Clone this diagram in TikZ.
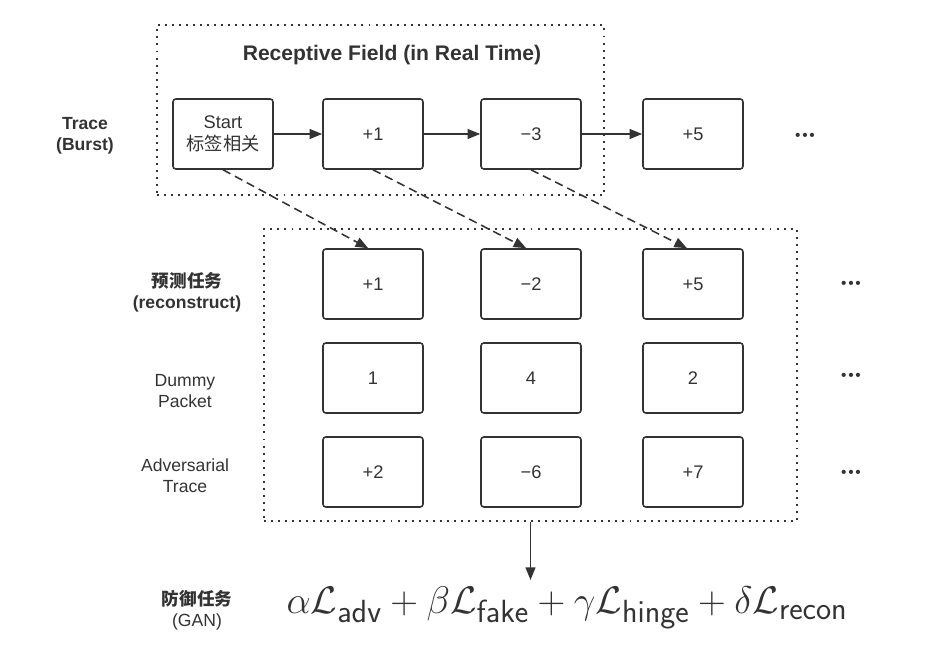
\documentclass[tikz,border=0pt]{standalone}
\usepackage{fontspec}
\setmainfont{Liberation Sans}
\newfontfamily\cjk{Noto Sans CJK SC}
\usetikzlibrary{arrows.meta}
\definecolor{ink}{HTML}{333333}
\tikzstyle{packet} = [rectangle, rounded corners=2pt, minimum width=2.5cm, minimum height=1.75cm, text centered, draw=ink, line width=1.1pt, text=ink, font=\fontsize{13}{16}\selectfont]
\tikzstyle{region} = [rectangle, draw=ink, line width=1.2pt, dash pattern=on 1.4pt off 3.6pt]
\tikzstyle{rowlabel} = [text=ink, align=center, font=\fontsize{12.5}{15}\selectfont]
\tikzstyle{boldlabel} = [rowlabel, font=\bfseries\fontsize{12.5}{15}\selectfont]
\tikzstyle{more} = [text=ink, font=\fontsize{11}{13}\selectfont]
\tikzstyle{arrow} = [draw=ink, line width=1.1pt, -{Triangle[length=9pt,width=7pt]}]
\tikzstyle{dasharrow} = [arrow, dash pattern=on 6pt off 3.6pt]

\begin{document}
\begin{tikzpicture}[node distance=1cm]
\useasboundingbox (0,0) rectangle (23.4,-16.35);

% receptive field
\node (field) [region, minimum width=11.175cm, minimum height=4.25cm] at (9.5125,-2.75) {};
\node (title) [text=ink, font=\bfseries\fontsize{15}{18}\selectfont] at (9.8,-1.38) {Receptive Field (in Real Time)};

\node (start) [packet, align=center] at (5.575,-3.35) {Start\\{\cjk 标签相关}};
\node (t1) [packet, right of=start, xshift=2.75cm] {+1};
\node (t2) [packet, right of=t1, xshift=2.95cm] {−3};
\node (t3) [packet, right of=t2, xshift=3.05cm] {+5};
\node (more1) [more] at (20.125,-3.425) {•\kern1.2pt•\kern1.2pt•};

\draw [arrow] (start) -- (t1);
\draw [arrow] (t1) -- (t2);
\draw [arrow] (t2) -- (t3);

% prediction region
\node (pred) [region, minimum width=13.325cm, minimum height=7.3cm] at (13.2625,-9.375) {};

\node (a1) [packet, below of=t1, yshift=-2.75cm] {+1};
\node (a2) [packet, below of=t2, yshift=-2.75cm] {−2};
\node (a3) [packet, below of=t3, yshift=-2.75cm] {+5};
\node (d1) [packet, below of=a1, yshift=-1.35cm] {1};
\node (d2) [packet, below of=a2, yshift=-1.35cm] {4};
\node (d3) [packet, below of=a3, yshift=-1.35cm] {2};
\node (v1) [packet, below of=d1, yshift=-1.35cm] {+2};
\node (v2) [packet, below of=d2, yshift=-1.35cm] {−6};
\node (v3) [packet, below of=d3, yshift=-1.35cm] {+7};

\node (more2) [more] at (21.275,-7.125) {•\kern1.2pt•\kern1.2pt•};
\node (more3) [more] at (21.275,-9.425) {•\kern1.2pt•\kern1.2pt•};
\node (more4) [more] at (21.275,-11.85) {•\kern1.2pt•\kern1.2pt•};

\draw [dasharrow] (start.south) -- ([xshift=-0.12cm]a1.north);
\draw [dasharrow] (t1.south) -- ([xshift=-0.12cm]a2.north);
\draw [dasharrow] (t2.south) -- ([xshift=-0.15cm]a3.north);

% row labels
\node (tracelbl) [boldlabel] at (2.125,-3.4) {Trace\\(Burst)};
\node (reclbl) [boldlabel] at (4.675,-7.3) {{\cjk 预测任务}\\(reconstruct)};
\node (dummylbl) [rowlabel] at (4.625,-9.775) {Dummy\\Packet};
\node (advlbl) [rowlabel] at (4.625,-11.9) {Adversarial\\Trace};
\node (ganlbl) [rowlabel] at (4.925,-15.25) {{\bfseries\cjk 防御任务}\\(GAN)};

% loss
\node (loss) [text=ink, font=\Huge, scale=1.1] at (14.175,-15.2) {$\alpha\mathcal{L}_{\mathsf{adv}}+\beta\mathcal{L}_{\mathsf{fake}}+\gamma\mathcal{L}_{\mathsf{hinge}}+\delta\mathcal{L}_{\mathsf{recon}}$};
\coordinate (lossin) at (13.2625,-14.5);
\draw [arrow] (pred) -- (lossin);

\end{tikzpicture}
\end{document}
